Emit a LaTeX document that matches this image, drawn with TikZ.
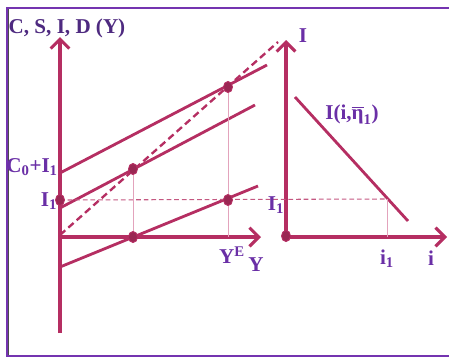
\documentclass[tikz,border=0pt]{standalone}
\usepackage{fontspec}
\usepackage{amsmath}
\setmainfont{Liberation Serif}
\usetikzlibrary{arrows.meta,shapes.geometric}
\definecolor{crline}{HTML}{B52E62}
\definecolor{crthin}{HTML}{E3A3BC}
\definecolor{crtext}{HTML}{6A2FA6}
\definecolor{crtitle}{HTML}{4E2A80}
\definecolor{crframe}{HTML}{7434B0}

\begin{document}
\begin{tikzpicture}[x=0.03cm,y=-0.03cm,font=\bfseries\fontsize{18}{20}\selectfont,
  axis/.style={draw=crline,line width=2.6pt,-{Straight Barb[length=2.8mm,width=5.6mm]}},
  curve/.style={draw=crline,line width=2.4pt},
  guide/.style={draw=crthin,line width=0.7pt},
  dot/.style={ellipse,draw=crline,fill=crline!85!black,line width=0.8pt,minimum width=0.27cm,minimum height=0.33cm,inner sep=0pt},
  lbl/.style={text=crtext,inner sep=0pt}]
\useasboundingbox (0,0) rectangle (449,358);
% frame
\draw[crframe,line width=2pt] (452,8) -- (7,8) -- (7,356) -- (452,356);
\draw[black!70,line width=0.8pt] (8.5,9) -- (8.5,355);
% left panel
\coordinate (oL) at (60,237);
\coordinate (oLlow) at (60,333);
\coordinate (yTop) at (60,37);
\coordinate (yEnd) at (261,237);
\draw[axis] (oLlow) -- (yTop);
\draw[axis] (oL) -- (yEnd);
\coordinate (cA) at (60,173);  \coordinate (cB) at (267,65);
\coordinate (mA) at (60,208);  \coordinate (mB) at (255,105);
\coordinate (sA) at (60,267);  \coordinate (sB) at (258,186);
\coordinate (hA) at (60,235);  \coordinate (hB) at (278,42);
\draw[curve] (cA) -- (cB);
\draw[curve] (mA) -- (mB);
\draw[curve] (sA) -- (sB);
\draw[crline,line width=2pt,dash pattern=on 6pt off 3.5pt] (hA) -- (hB);
% right panel
\coordinate (oR) at (286,237);
\coordinate (iTop) at (286,40);
\coordinate (iEnd) at (447,237);
\draw[axis] (oR) -- (iTop);
\draw[axis] (oR) -- (iEnd);
\coordinate (dA) at (295,97);  \coordinate (dB) at (408,221);
\draw[curve] (dA) -- (dB);
\coordinate (iOne) at (387,199);
\coordinate (iOneB) at (387,237);
\coordinate (yEB) at (228,237);
% guides
\draw[guide] (iOne) -- (iOneB);
\draw[crline!80,line width=0.9pt,dash pattern=on 4pt off 2.5pt] (60,200) -- (iOne);
\node[dot] (pI) at (60,200) {};
\node[dot] (pM) at (133,169) {};
\node[dot] (pS) at (133,237) {};
\node[dot] (pE) at (228,200) {};
\node[dot] (pC) at (228,87) {};
\node[dot] (pO) at (286,236) {};
\draw[guide] (pM) -- (pS);
\draw[guide] (pC) -- (pE);
\draw[guide] (pE) -- (yEB);
% labels
\node[lbl,text=crtitle] (tAx) at (67,28) {C, S, I, D (Y)};
\node[lbl] (tCI) at (32,167) {C\textsubscript{0}+I\textsubscript{1}};
\node[lbl] (tI1) at (49,201) {I\textsubscript{1}};
\node[lbl] (tYE) at (232,255) {Y\textsuperscript{E}};
\node[lbl] (tY) at (256,265) {Y};
\node[lbl] (tI) at (303,36) {I};
\node[lbl] (tInv) at (352,115) {I(i,$\overline{\text{η}}_{\text{1}}$)};
\node[lbl] (tI1r) at (276,205) {I\textsubscript{1}};
\node[lbl] (ti1) at (387,259) {i\textsubscript{1}};
\node[lbl] (ti) at (431,258) {i};
\end{tikzpicture}
\end{document}
